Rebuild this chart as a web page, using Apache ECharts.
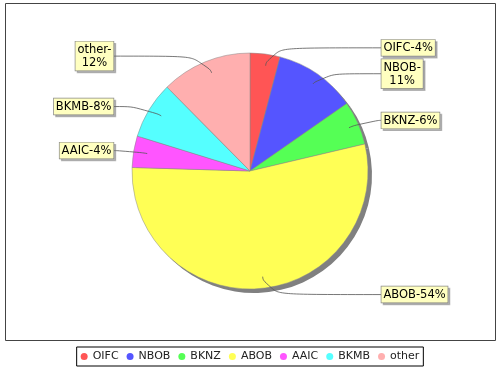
<!DOCTYPE html>
<html><head><meta charset="utf-8">
<script src="https://cdn.jsdelivr.net/npm/echarts@6/dist/echarts.min.js"></script>
<style>html,body{margin:0;padding:0;background:#fff}#c{width:500px;height:370px}</style>
</head><body><div id="c"></div>
<script>
const categories = ['OIFC', 'NBOB', 'BKNZ', 'ABOB', 'AAIC', 'BKMB', 'other'];
const shares = [4.1, 11.2, 6.0, 54.1, 4.3, 7.8, 12.4];
const sliceColors = ['#FF5555', '#5555FF', '#55FF55', '#FFFF55', '#FF55FF', '#55FFFF', '#FFAFAF'];
const twoLineLabels = ['NBOB', 'other'];

const total = shares.reduce((a, b) => a + b, 0);
const pieData = categories.map((n, i) => ({ name: n, value: shares[i] }));
const FONT = 'DejaVu Sans';
const CENTER = [250, 171];
const R = 118;

const chart = echarts.init(document.getElementById('c'), null, { renderer: 'canvas' });
chart.setOption({
  animation: false,
  backgroundColor: '#ffffff',
  color: sliceColors,
  graphic: [{
    type: 'rect', silent: true, z: -10,
    shape: { x: 5.5, y: 3.5, width: 490, height: 337 },
    style: { fill: 'none', stroke: '#444', lineWidth: 1 }
  }],
  legend: {
    data: categories,
    left: 'center', top: 347,
    icon: 'circle', itemWidth: 7, itemHeight: 7, itemGap: 8,
    padding: [4, 4],
    borderColor: '#000', borderWidth: 1,
    selectedMode: false,
    itemStyle: { borderWidth: 0 },
    textStyle: { fontFamily: FONT, fontSize: 11, color: '#222' }
  },
  series: [
    {
      type: 'pie', name: 'slices', center: CENTER, radius: R,
      startAngle: 90, clockwise: true, data: pieData, silent: true, z: 3,
      label: { show: false }, labelLine: { show: false },
      itemStyle: { borderColor: '#888', borderWidth: 0.5 }
    },
    {
      type: 'pie', name: 'shadow', center: [CENTER[0] + 4, CENTER[1] + 4], radius: R,
      startAngle: 90, clockwise: true, data: pieData, silent: true, z: 1,
      legendHoverLink: false,
      label: { show: false }, labelLine: { show: false },
      itemStyle: { color: '#808080', borderWidth: 0 }
    },
    {
      type: 'pie', name: 'labels', center: [CENTER[0] + 2, CENTER[1]], radius: R * 0.9,
      startAngle: 90, clockwise: true, data: pieData, silent: true, z: 4,
      legendHoverLink: false,
      itemStyle: { color: 'rgba(0,0,0,0)', borderWidth: 0 },
      label: {
        show: true, position: 'outer', alignTo: 'labelLine', distanceToLabelLine: 0,
        formatter: p => {
          const pct = Math.round(p.value / total * 100);
          return twoLineLabels.includes(p.name)
            ? '{c|' + p.name + '-}\n{c|' + pct + '%}'
            : '{c|' + p.name + '-' + pct + '%}';
        },
        rich: { c: { align: 'center', fontFamily: FONT, fontSize: 11.5, lineHeight: 13, color: '#000' } },
        fontFamily: FONT, fontSize: 11.5, lineHeight: 13, color: '#000',
        backgroundColor: '#FFFFC0', borderColor: '#888', borderWidth: 0.7,
        padding: [2, 2, 1, 2],
        shadowColor: 'rgba(110,110,110,0.45)', shadowOffsetX: 2, shadowOffsetY: 2, shadowBlur: 0
      },
      labelLine: {
        show: true, length: 18, length2: 16, smooth: 0.8,
        lineStyle: { color: '#555', width: 0.8 }
      }
    }
  ]
});
</script>
</body></html>
